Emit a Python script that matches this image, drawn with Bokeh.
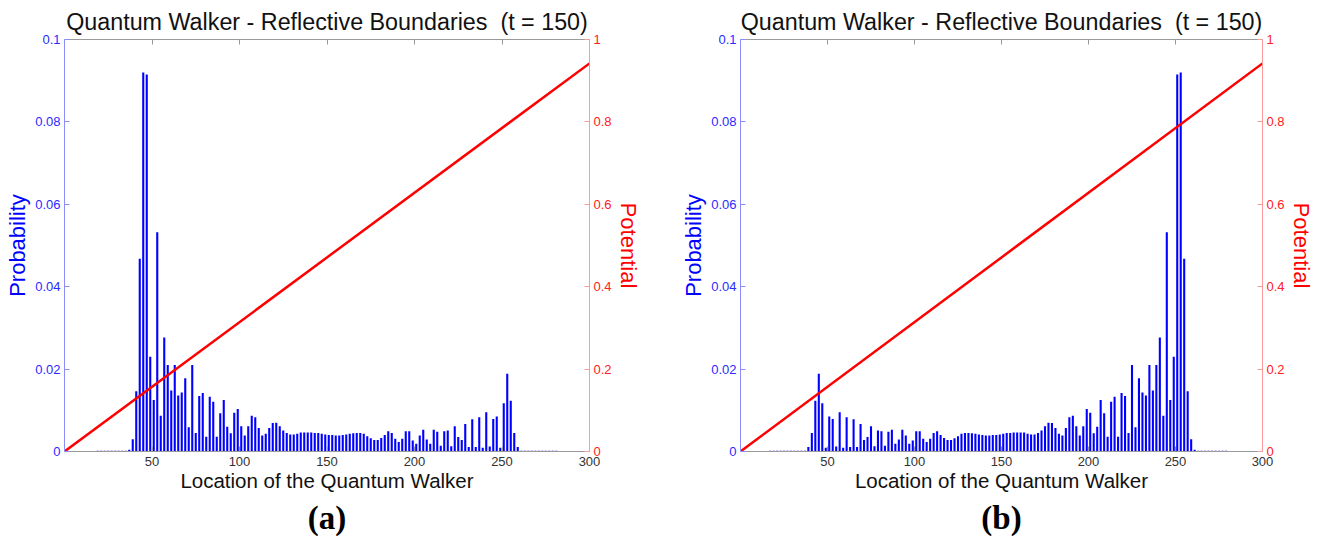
from bokeh.plotting import figure
from bokeh.models import Range1d, LinearAxis, FixedTicker, Title, NumeralTickFormatter
from bokeh.layouts import row
from bokeh.embed import file_html
from bokeh.resources import INLINE

TITLE = "Quantum Walker - Reflective Boundaries \u00a0(t = 150)"
X_LABEL = "Location of the Quantum Walker"

# lattice sites carrying probability (odd sites)
positions_a = list(range(19, 283, 2))
positions_b = list(range(17, 281, 2))

prob_a = [
    0.0002, 0.0002, 0.0002, 0.0002, 0.0002, 0.0002, 0.0002, 0.0002, 0.0002, 0.0004,
    0.0030, 0.0146, 0.0468, 0.0920, 0.0915, 0.0230, 0.0125, 0.0532, 0.0087, 0.0277,
    0.0210, 0.0148, 0.0210, 0.0136, 0.0143, 0.0178, 0.0059, 0.0210, 0.0045, 0.0135,
    0.0142, 0.0036, 0.0133, 0.0121, 0.0036, 0.0093, 0.0125, 0.0060, 0.0044, 0.0094,
    0.0103, 0.0061, 0.0039, 0.0061, 0.0087, 0.0083, 0.0057, 0.0039, 0.0043, 0.0057,
    0.0069, 0.0070, 0.0061, 0.0051, 0.0045, 0.0041, 0.0041, 0.0043, 0.0046, 0.0046,
    0.0046, 0.0046, 0.0045, 0.0045, 0.0043, 0.0041, 0.0040, 0.0040, 0.0039, 0.0039,
    0.0040, 0.0041, 0.0043, 0.0044, 0.0045, 0.0045, 0.0043, 0.0037, 0.0032, 0.0028,
    0.0028, 0.0033, 0.0040, 0.0049, 0.0045, 0.0031, 0.0023, 0.0031, 0.0049, 0.0049,
    0.0027, 0.0019, 0.0039, 0.0053, 0.0029, 0.0019, 0.0053, 0.0048, 0.0014, 0.0049,
    0.0051, 0.0013, 0.0061, 0.0035, 0.0028, 0.0067, 0.0011, 0.0078, 0.0011, 0.0083,
    0.0009, 0.0095, 0.0012, 0.0079, 0.0085, 0.0009, 0.0117, 0.0189, 0.0123, 0.0045,
    0.0011, 0.0002, 0.0002, 0.0002, 0.0002, 0.0002, 0.0002, 0.0002, 0.0002, 0.0002,
    0.0002, 0.0002,
]

prob_b = [
    0.0002, 0.0002,
    0.0002, 0.0002, 0.0002, 0.0002, 0.0002, 0.0002, 0.0002, 0.0002, 0.0002, 0.0011,
    0.0045, 0.0123, 0.0189, 0.0117, 0.0009, 0.0085, 0.0079, 0.0012, 0.0095, 0.0009,
    0.0083, 0.0011, 0.0078, 0.0011, 0.0067, 0.0028, 0.0035, 0.0061, 0.0013, 0.0051,
    0.0049, 0.0014, 0.0048, 0.0053, 0.0019, 0.0029, 0.0053, 0.0039, 0.0019, 0.0027,
    0.0049, 0.0049, 0.0031, 0.0023, 0.0031, 0.0045, 0.0049, 0.0040, 0.0033, 0.0028,
    0.0028, 0.0032, 0.0037, 0.0043, 0.0045, 0.0045, 0.0044, 0.0043, 0.0041, 0.0040,
    0.0039, 0.0039, 0.0040, 0.0040, 0.0041, 0.0043, 0.0045, 0.0045, 0.0046, 0.0046,
    0.0046, 0.0046, 0.0043, 0.0041, 0.0041, 0.0045, 0.0051, 0.0061, 0.0070, 0.0069,
    0.0057, 0.0043, 0.0039, 0.0057, 0.0083, 0.0087, 0.0061, 0.0039, 0.0061, 0.0103,
    0.0094, 0.0044, 0.0060, 0.0125, 0.0093, 0.0036, 0.0121, 0.0133, 0.0036, 0.0142,
    0.0135, 0.0045, 0.0210, 0.0059, 0.0178, 0.0143, 0.0136, 0.0210, 0.0148, 0.0210,
    0.0277, 0.0087, 0.0532, 0.0125, 0.0230, 0.0915, 0.0920, 0.0468, 0.0146, 0.0030,
    0.0004, 0.0002, 0.0002, 0.0002, 0.0002, 0.0002, 0.0002, 0.0002, 0.0002, 0.0002,
]

potential_x = [0, 300]
potential_y = [0.0, 0.942]

x_ticks = [50, 100, 150, 200, 250, 300]
prob_ticks = [0, 0.02, 0.04, 0.06, 0.08, 0.1]
pot_ticks = [0, 0.2, 0.4, 0.6, 0.8, 1.0]

SANS = "Liberation Sans"
BLUE = "#0000ff"
RED = "#ff0000"


def make_panel(pos, prob, letter, width, b_left, b_right):
    p = figure(width=width, height=550, x_range=Range1d(0, 300), y_range=Range1d(0, 0.1),
               output_backend="svg", toolbar_location=None,
               min_border_left=b_left, min_border_right=b_right,
               min_border_top=39, min_border_bottom=99, title=TITLE)
    p.extra_y_ranges = {"pot": Range1d(0, 1)}
    p.outline_line_color = None
    p.grid.visible = False
    p.background_fill_color = "white"
    p.border_fill_color = "white"

    p.title.text_font = SANS
    p.title.text_font_size = "23.3px"
    p.title.text_font_style = "normal"
    p.title.text_color = "#111111"
    p.title.align = "center"
    p.title.standoff = 9

    xa = p.xaxis[0]
    xa.ticker = FixedTicker(ticks=x_ticks)
    xa.axis_line_color = "#9a9a9a"
    xa.major_tick_line_color = "#9a9a9a"
    xa.major_tick_in = 5
    xa.major_tick_out = 0
    xa.minor_tick_line_color = None
    xa.major_label_text_font = SANS
    xa.major_label_text_font_size = "13px"
    xa.major_label_text_color = "#333333"
    xa.major_label_standoff = 5
    xa.axis_label = X_LABEL
    xa.axis_label_text_font = SANS
    xa.axis_label_text_font_size = "20.5px"
    xa.axis_label_text_font_style = "normal"
    xa.axis_label_text_color = "#111111"
    xa.axis_label_standoff = 0

    ya = p.yaxis[0]
    ya.ticker = FixedTicker(ticks=prob_ticks)
    ya.formatter = NumeralTickFormatter(format="0.[00]")
    ya.axis_line_color = "#8c8cff"
    ya.major_tick_line_color = "#8c8cff"
    ya.major_tick_in = 5
    ya.major_tick_out = 0
    ya.minor_tick_line_color = None
    ya.major_label_text_font = SANS
    ya.major_label_text_font_size = "13px"
    ya.major_label_text_color = "#2a2aff"
    ya.major_label_standoff = 4
    ya.axis_label = "Probability"
    ya.axis_label_text_font = SANS
    ya.axis_label_text_font_size = "22px"
    ya.axis_label_text_font_style = "normal"
    ya.axis_label_text_color = BLUE
    ya.axis_label_standoff = 2

    ra = LinearAxis(y_range_name="pot", ticker=FixedTicker(ticks=pot_ticks),
                    formatter=NumeralTickFormatter(format="0.[0]"))
    ra.axis_line_color = "#ff9a9a"
    ra.major_tick_line_color = "#ff9a9a"
    ra.major_tick_in = 5
    ra.major_tick_out = 0
    ra.minor_tick_line_color = None
    ra.major_label_text_font = SANS
    ra.major_label_text_font_size = "13px"
    ra.major_label_text_color = "#ff2020"
    ra.major_label_standoff = 4
    ra.axis_label = "Potential"
    ra.axis_label_text_font = SANS
    ra.axis_label_text_font_size = "22px"
    ra.axis_label_text_font_style = "normal"
    ra.axis_label_text_color = RED
    ra.axis_label_standoff = 1
    p.add_layout(ra, "right")

    ta = LinearAxis(ticker=FixedTicker(ticks=x_ticks))
    ta.axis_line_color = "#9a9a9a"
    ta.major_tick_line_color = "#9a9a9a"
    ta.major_tick_in = 5
    ta.major_tick_out = 0
    ta.minor_tick_line_color = None
    ta.major_label_text_font_size = "0px"
    ta.major_label_text_color = None
    ta.major_label_standoff = 0
    p.add_layout(ta, "above")

    p.vbar(x=pos, top=prob, width=1.2, fill_color=BLUE, line_color=None)
    p.line(potential_x, potential_y, y_range_name="pot", line_color=RED, line_width=2.5)

    cap = Title(text=letter, align="center", text_font="Liberation Serif",
                text_font_size="33px", text_font_style="bold", text_color="#000000",
                standoff=7)
    p.add_layout(cap, "below")
    return p


pa = make_panel(positions_a, prob_a, "(a)", 659, 64, 70)
pb = make_panel(positions_b, prob_b, "(b)", 657, 81, 51)

layout = row(pa, pb)
open("out.html", "w").write(file_html(layout, INLINE))
